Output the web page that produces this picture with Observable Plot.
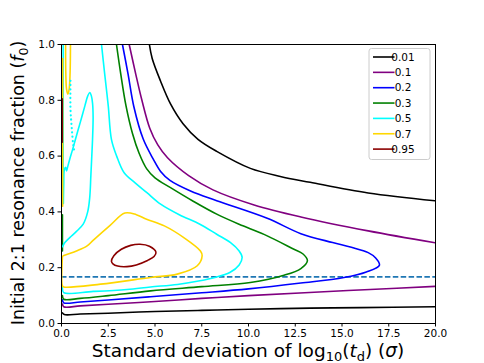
<!DOCTYPE html>
<html><head><meta charset="utf-8">
<script src="https://cdn.jsdelivr.net/npm/d3@7"></script>
<script src="https://cdn.jsdelivr.net/npm/@observablehq/plot@0.6"></script>
<style>body{margin:0;background:#fff;} svg{font-family:"DejaVu Sans",sans-serif;}</style>
</head><body><div id="chart"></div>
<script>
const levels = ["0.01","0.1","0.2","0.3","0.5","0.7","0.95"];
const colors = ["#000000","#800080","#0000ff","#008000","#00ffff","#ffd700","#8b0000"];
const xTicks = [0,2.5,5,7.5,10,12.5,15,17.5,20];
const yTicks = [0,0.2,0.4,0.6,0.8,1.0];
const dashedF = [0.167];

const blackUpper = [[4.7,1.0],[4.85,0.95],[5.29,0.87],[5.83,0.787],[6.5,0.716],[7.3,0.66],[8.3,0.617],[10.1,0.556],[11.7,0.527],[13.3,0.506],[16.4,0.468],[20,0.44]];
const blackLower = [[0.05,0.038],[0.15,0.032],[1,0.034],[2.5,0.037],[5,0.043],[7.5,0.047],[10,0.051],[13.3,0.055],[16,0.057],[20,0.06]];
const purpleLower = [[0.05,0.07],[0.12,0.06],[1,0.063],[2.5,0.069],[5,0.079],[7.5,0.09],[10,0.1],[13,0.11],[16.5,0.122],[20,0.133]];
const purpleUpper = [[3.62,1.0],[3.97,0.894],[4.3,0.8],[4.72,0.70],[5.15,0.64],[5.67,0.594],[6.8,0.53],[8.1,0.479],[10.3,0.425],[12.8,0.382],[16.4,0.332],[20,0.289]];
const blueLine = [[0.05,0.085],[0.12,0.074],[1,0.077],[2.5,0.084],[4.76,0.096],[7.5,0.11],[10,0.124],[12.8,0.145],[15.1,0.165],[16.3,0.185],[17.0,0.209],[16.8,0.235],[16.4,0.254],[15.5,0.273],[14.5,0.29],[12.8,0.322],[11.0,0.377],[8.3,0.44],[6.9,0.475],[5.8,0.513],[5.3,0.545],[4.9,0.59],[4.37,0.661],[3.87,0.777],[3.56,0.894],[3.26,1.0]];
const greenLine = [[0.05,0.1],[0.12,0.087],[1,0.09],[2.5,0.1],[4.76,0.117],[7.5,0.132],[10.1,0.147],[11.9,0.173],[12.8,0.197],[13.15,0.225],[12.9,0.25],[12.4,0.267],[11.0,0.314],[9.7,0.35],[8.3,0.392],[7.0,0.44],[5.83,0.487],[5.0,0.522],[4.55,0.555],[4.15,0.61],[3.8,0.68],[3.45,0.78],[3.17,0.894],[2.94,1.0]];
const greenEdge = [[0.05,0.26],[0.05,0.39]];
const cyanMain = [[0.05,0.13],[0.12,0.111],[1.7,0.115],[3.5,0.122],[4.76,0.131],[6.2,0.14],[7.4,0.153],[8.2,0.165],[9.0,0.183],[9.5,0.21],[9.66,0.237],[9.5,0.26],[9.04,0.29],[8.3,0.32],[7.4,0.356],[6.3,0.39],[5.3,0.428],[4.55,0.47],[3.92,0.505],[3.35,0.54],[2.95,0.6],[2.67,0.66],[2.5,0.78],[2.3,0.9],[2.14,1.0]];
const cyanSpike = [[0.05,0.275],[0.18,0.29],[0.44,0.308],[0.8,0.33],[1.16,0.356],[1.4,0.4],[1.51,0.452],[1.57,0.53],[1.62,0.6],[1.66,0.66],[1.69,0.74],[1.66,0.79],[1.6,0.815],[1.51,0.828],[1.4,0.815],[1.25,0.78],[1.0,0.72],[0.8,0.673],[0.6,0.625],[0.44,0.589],[0.32,0.559],[0.27,0.547],[0.22,0.56],[0.15,0.55],[0.12,0.5],[0.1,0.43]];
const cyanEdge = [[0.09,0.43],[0.09,1.0]];
const cyanDots = [[0.48,0.87],[0.48,0.77],[0.55,0.7],[0.62,0.645],[0.7,0.612]];
const yellowLoop = [[0.05,0.24],[0.05,0.135],[0.12,0.131],[2.09,0.141],[4.76,0.165],[6.19,0.177],[7.26,0.207],[7.52,0.243],[7.43,0.26],[6.54,0.308],[5.5,0.35],[4.55,0.374],[4.0,0.39],[3.39,0.396],[2.6,0.352],[1.69,0.298],[1.37,0.278],[0.8,0.26],[0.09,0.243]];
const yellowEdge = [[0.06,0.42],[0.06,0.95]];
const yellowU = [[0.22,1.0],[0.23,0.9],[0.27,0.84],[0.34,0.822],[0.41,0.84],[0.46,0.9],[0.48,1.0]];
const redEdge = [[0.04,0.65],[0.04,0.805]];
const redLoop = [[2.67,0.223],[2.8,0.243],[3.2,0.266],[3.7,0.28],[4.2,0.284],[4.7,0.277],[5.05,0.256],[4.95,0.24],[4.6,0.226],[4.0,0.21],[3.5,0.204],[3.0,0.206],[2.75,0.214]];

const segs = [
  ["0.01",blackUpper],["0.01",blackLower],
  ["0.1",purpleLower],["0.1",purpleUpper],
  ["0.2",blueLine],
  ["0.3",greenLine],["0.3",greenEdge],
  ["0.5",cyanMain],["0.5",cyanSpike],["0.5",cyanEdge],
  ["0.7",yellowLoop],["0.7",yellowEdge],["0.7",yellowU],
  ["0.95",redEdge]
];
const rows = [];
segs.forEach(([lev,pts],i)=>pts.forEach(([s,f])=>rows.push({s,f,id:i,level:lev})));
const redRows = redLoop.map(([s,f])=>({s,f,level:"0.95"}));
const dotRows = cyanDots.map(([s,f])=>({s,f,level:"0.5"}));

const W=484,H=363;
const plot = Plot.plot({
  width:W,height:H,
  marginLeft:61,marginRight:49,marginTop:44,marginBottom:40,
  style:{fontFamily:"DejaVu Sans, sans-serif",fontSize:"10.5px",background:"white",color:"black"},
  x:{domain:[0,20],ticks:xTicks,tickFormat:d3.format(".1f"),label:null,tickSize:3.5,tickPadding:3},
  y:{domain:[0,1],ticks:yTicks,tickFormat:d3.format(".1f"),label:null,tickSize:3.5,tickPadding:3},
  color:{domain:levels,range:colors},
  marks:[
    Plot.ruleY(dashedF,{x1:0,x2:20,stroke:"#1f77b4",strokeWidth:1.6,strokeDasharray:"5.5,2.4"}),
    Plot.line(rows,{x:"s",y:"f",z:"id",stroke:"level",strokeWidth:1.6,curve:"catmull-rom",clip:true}),
    Plot.line(redRows,{x:"s",y:"f",stroke:"level",strokeWidth:1.6,curve:"catmull-rom-closed",clip:true}),
    Plot.line(dotRows,{x:"s",y:"f",stroke:"level",strokeWidth:2.2,strokeDasharray:"0.1,4.2",strokeLinecap:"round",curve:"catmull-rom",clip:true}),
    Plot.frame({stroke:"black",strokeWidth:1})
  ]
});
document.getElementById("chart").appendChild(plot);
const svg = d3.select(plot);
// Axis titles
const xl = svg.append("text").attr("x",248).attr("y",357).attr("text-anchor","middle")
  .attr("font-size",18.5).attr("fill","black");
xl.append("tspan").text("Standard deviation of log");
xl.append("tspan").attr("font-size",13).attr("dy",4).text("10");
xl.append("tspan").attr("dy",-4).text("(");
xl.append("tspan").attr("font-style","italic").text("t");
xl.append("tspan").attr("font-size",13).attr("dy",4).text("d");
xl.append("tspan").attr("dy",-4).text(") (");
xl.append("tspan").attr("font-style","italic").text("σ");
xl.append("tspan").text(")");
const yl = svg.append("text").attr("transform","translate(24,183) rotate(-90)").attr("text-anchor","middle")
  .attr("font-size",17.5).attr("fill","black");
yl.append("tspan").text("Initial 2:1 resonance fraction (");
yl.append("tspan").attr("font-style","italic").text("f");
yl.append("tspan").attr("font-size",12.5).attr("dy",4).text("0");
yl.append("tspan").attr("dy",-4).text(")");
// Legend
const lg = svg.append("g");
lg.append("rect").attr("x",369).attr("y",48.5).attr("width",61).attr("height",111).attr("rx",2.5)
  .attr("fill","white").attr("fill-opacity",0.8).attr("stroke","#cccccc").attr("stroke-width",1);
levels.forEach((lev,i)=>{
  const y = 57 + i*15.35;
  lg.append("line").attr("x1",373).attr("x2",394.5).attr("y1",y).attr("y2",y).attr("stroke",colors[i]).attr("stroke-width",1.6);
  lg.append("text").attr("x",403).attr("y",y).attr("dy","0.36em").attr("font-size",10.5).attr("fill","black").text(lev);
});
</script></body></html>
